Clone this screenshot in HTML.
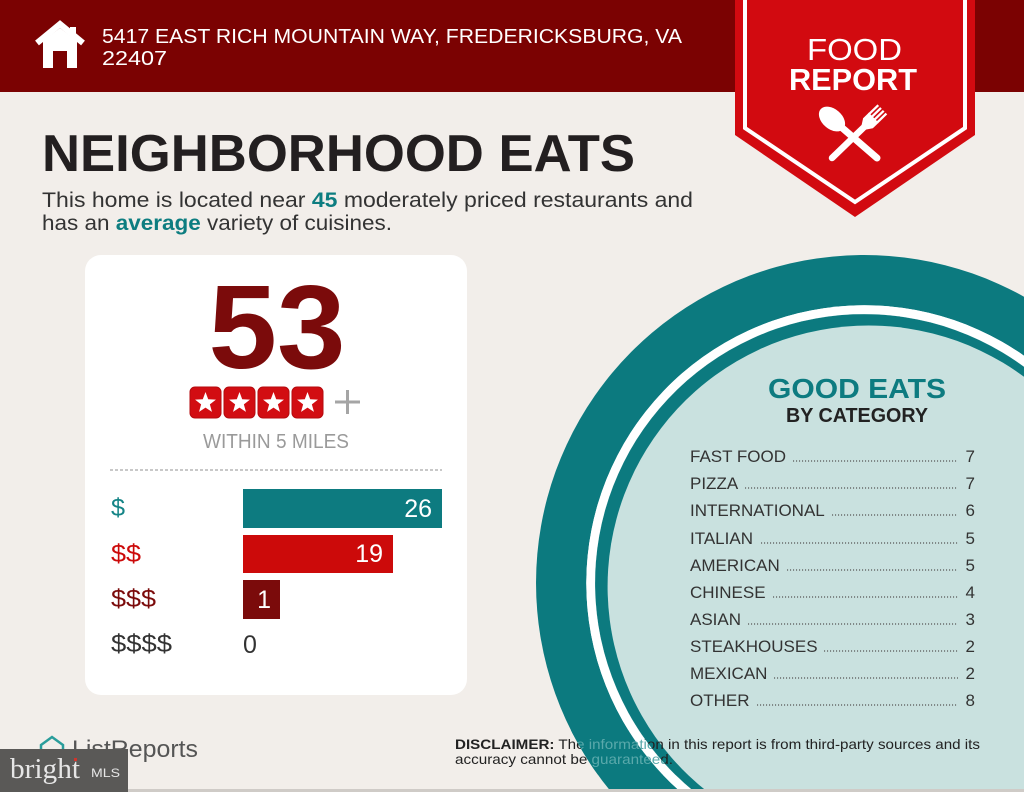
<!DOCTYPE html>
<html>
<head>
<meta charset="utf-8">
<style>
html,body{margin:0;padding:0;background:#f2eeea;width:1024px;height:792px;overflow:hidden;}
svg{display:block;}
text{font-family:"Liberation Sans",sans-serif;}
</style>
</head>
<body>
<svg width="1024" height="792" viewBox="0 0 1024 792" xmlns="http://www.w3.org/2000/svg">
  <defs>
    <clipPath id="band">
      <path clip-rule="evenodd" d="M1024,296.7 A328,328 0 0 0 611.2,792 L1024,792 Z M1024,366.8 A269,269 0 0 0 694.6,792 L1024,792 Z"/>
    </clipPath>
  </defs>
  <!-- background -->
  <rect x="0" y="0" width="1024" height="792" fill="#f2eeea"/>
  <!-- header -->
  <rect x="0" y="0" width="1024" height="92" fill="#7b0202"/>
  <!-- house icon -->
  <polyline points="37,43 60,24 83,43" fill="none" stroke="#ffffff" stroke-width="6" stroke-linejoin="miter"/>
  <rect x="70" y="27" width="6" height="11" fill="#ffffff"/>
  <path d="M43,41 L60,28 L77,41 L77,68 L67,68 L67,51 L53,51 L53,68 L43,68 Z" fill="#ffffff"/>
  <text x="102" y="43" font-size="20" fill="#ffffff" textLength="580" lengthAdjust="spacingAndGlyphs">5417 EAST RICH MOUNTAIN WAY, FREDERICKSBURG, VA</text>
  <text x="102" y="65" font-size="20" fill="#ffffff" textLength="65" lengthAdjust="spacingAndGlyphs">22407</text>

  <!-- badge -->
  <polygon points="735,0 975,0 975,135 855,217 735,135" fill="#d20a10"/>
  <polyline points="745,0 745,128 855,202 965,128 965,0" fill="none" stroke="#ffffff" stroke-width="4"/>
  <text x="807" y="60" font-size="31" fill="#ffffff" textLength="95" lengthAdjust="spacingAndGlyphs">FOOD</text>
  <text x="789" y="90" font-size="31" font-weight="bold" fill="#ffffff" textLength="128" lengthAdjust="spacingAndGlyphs">REPORT</text>
  <!-- fork -->
  <g transform="translate(832,158) rotate(-44)" fill="#ffffff">
    <line x1="0" y1="0" x2="46" y2="0" stroke="#ffffff" stroke-width="6.5" stroke-linecap="round"/>
    <path d="M44,-3 L50,-7 L58,-7 L58,7 L50,7 L44,3 Z"/>
    <rect x="57" y="-7" width="13" height="2.3"/>
    <rect x="57" y="-3.1" width="13" height="2.3"/>
    <rect x="57" y="0.8" width="13" height="2.3"/>
    <rect x="57" y="4.7" width="13" height="2.3"/>
  </g>
  <!-- spoon -->
  <line x1="877" y1="158" x2="840" y2="126" stroke="#ffffff" stroke-width="7" stroke-linecap="round"/>
  <ellipse cx="832" cy="119" rx="15" ry="10" transform="rotate(41 832 119)" fill="#ffffff"/>

  <!-- title -->
  <text x="42" y="171" font-size="52" font-weight="bold" fill="#231f20" textLength="593" lengthAdjust="spacingAndGlyphs">NEIGHBORHOOD EATS</text>
  <text x="42" y="207" font-size="21" fill="#333333" textLength="651" lengthAdjust="spacingAndGlyphs">This home is located near <tspan font-weight="bold" fill="#0d7d80">45</tspan> moderately priced restaurants and</text>
  <text x="42" y="230" font-size="21" fill="#333333" textLength="350" lengthAdjust="spacingAndGlyphs">has an <tspan font-weight="bold" fill="#0d7d80">average</tspan> variety of cuisines.</text>

  <!-- card -->
  <rect x="85" y="255" width="382" height="440" rx="16" ry="16" fill="#ffffff"/>
  <text x="277" y="368" font-size="119" font-weight="bold" fill="#7b0b0b" text-anchor="middle" textLength="137" lengthAdjust="spacingAndGlyphs">53</text>
  <!-- stars -->
  <g>
    <rect x="190" y="387" width="31" height="31" rx="5" fill="#d20d12" stroke="#b50a0e" stroke-width="1"/>
    <rect x="224" y="387" width="31" height="31" rx="5" fill="#d20d12" stroke="#b50a0e" stroke-width="1"/>
    <rect x="258" y="387" width="31" height="31" rx="5" fill="#d20d12" stroke="#b50a0e" stroke-width="1"/>
    <rect x="292" y="387" width="31" height="31" rx="5" fill="#d20d12" stroke="#b50a0e" stroke-width="1"/>
    <polygon transform="translate(205.5,403)" fill="#ffffff" points="0,-11 2.7,-3.72 10.46,-3.4 4.37,1.42 6.47,8.9 0,4.6 -6.47,8.9 -4.37,1.42 -10.46,-3.4 -2.7,-3.72"/>
    <polygon transform="translate(239.5,403)" fill="#ffffff" points="0,-11 2.7,-3.72 10.46,-3.4 4.37,1.42 6.47,8.9 0,4.6 -6.47,8.9 -4.37,1.42 -10.46,-3.4 -2.7,-3.72"/>
    <polygon transform="translate(273.5,403)" fill="#ffffff" points="0,-11 2.7,-3.72 10.46,-3.4 4.37,1.42 6.47,8.9 0,4.6 -6.47,8.9 -4.37,1.42 -10.46,-3.4 -2.7,-3.72"/>
    <polygon transform="translate(307.5,403)" fill="#ffffff" points="0,-11 2.7,-3.72 10.46,-3.4 4.37,1.42 6.47,8.9 0,4.6 -6.47,8.9 -4.37,1.42 -10.46,-3.4 -2.7,-3.72"/>
    <line x1="335" y1="402" x2="360" y2="402" stroke="#a5a5a5" stroke-width="3"/>
    <line x1="347.5" y1="390" x2="347.5" y2="414" stroke="#a5a5a5" stroke-width="3"/>
  </g>
  <text x="203" y="448" font-size="20" fill="#9a9a9a" textLength="146" lengthAdjust="spacingAndGlyphs">WITHIN 5 MILES</text>
  <line x1="110" y1="470" x2="442" y2="470" stroke="#a8a8a8" stroke-width="1.2" stroke-dasharray="3 2"/>

  <!-- bars -->
  <text x="111" y="516" font-size="25" fill="#148486" textLength="14" lengthAdjust="spacingAndGlyphs">$</text>
  <text x="111" y="562" font-size="25" fill="#cc0a0a" textLength="30" lengthAdjust="spacingAndGlyphs">$$</text>
  <text x="111" y="607" font-size="25" fill="#7b0b0b" textLength="45" lengthAdjust="spacingAndGlyphs">$$$</text>
  <text x="111" y="652" font-size="25" fill="#333333" textLength="61" lengthAdjust="spacingAndGlyphs">$$$$</text>

  <rect x="243" y="489" width="199" height="39" fill="#0d7b80"/>
  <rect x="243" y="535" width="150" height="38" fill="#cc0a0a"/>
  <rect x="243" y="580" width="37" height="39" fill="#7b0b0b"/>
  <text x="432" y="517" font-size="25" fill="#ffffff" text-anchor="end">26</text>
  <text x="383" y="562" font-size="25" fill="#ffffff" text-anchor="end">19</text>
  <text x="271" y="608" font-size="25" fill="#ffffff" text-anchor="end">1</text>
  <text x="243" y="653" font-size="25" fill="#333333">0</text>

  <!-- circle (bounded paths) -->
  <path d="M1024,296.7 A328,328 0 0 0 611.2,792 L1024,792 Z" fill="#0c7a7f"/>
  <path d="M1024,355.7 A278,278 0 0 0 680.7,792 L1024,792 Z" fill="#ffffff"/>
  <path d="M1024,366.8 A269,269 0 0 0 694.6,792 L1024,792 Z" fill="#0c7a7f"/>
  <path d="M1024,376.8 A261,261 0 0 0 707.7,792 L1024,792 Z" fill="#c9e1df"/>

  <text x="768" y="398" font-size="28" font-weight="bold" fill="#0d7b80" textLength="178" lengthAdjust="spacingAndGlyphs">GOOD EATS</text>
  <text x="786" y="422" font-size="20" font-weight="bold" fill="#222222" textLength="142" lengthAdjust="spacingAndGlyphs">BY CATEGORY</text>

  <g font-size="17" fill="#333333">
    <text x="690" y="462">FAST FOOD</text>
    <text x="690" y="489">PIZZA</text>
    <text x="690" y="516">INTERNATIONAL</text>
    <text x="690" y="544">ITALIAN</text>
    <text x="690" y="571">AMERICAN</text>
    <text x="690" y="598">CHINESE</text>
    <text x="690" y="625">ASIAN</text>
    <text x="690" y="652">STEAKHOUSES</text>
    <text x="690" y="679">MEXICAN</text>
    <text x="690" y="706">OTHER</text>
    <text x="975" y="462" text-anchor="end">7</text>
    <text x="975" y="489" text-anchor="end">7</text>
    <text x="975" y="516" text-anchor="end">6</text>
    <text x="975" y="544" text-anchor="end">5</text>
    <text x="975" y="571" text-anchor="end">5</text>
    <text x="975" y="598" text-anchor="end">4</text>
    <text x="975" y="625" text-anchor="end">3</text>
    <text x="975" y="652" text-anchor="end">2</text>
    <text x="975" y="679" text-anchor="end">2</text>
    <text x="975" y="706" text-anchor="end">8</text>
  </g>
  <g stroke="#555555" stroke-width="1.3" stroke-dasharray="1.1 1.9">
    <line x1="793" y1="461" x2="958" y2="461"/>
    <line x1="745" y1="488" x2="958" y2="488"/>
    <line x1="832" y1="515" x2="958" y2="515"/>
    <line x1="761" y1="543" x2="958" y2="543"/>
    <line x1="787" y1="570" x2="958" y2="570"/>
    <line x1="773" y1="597" x2="958" y2="597"/>
    <line x1="748" y1="624" x2="958" y2="624"/>
    <line x1="824" y1="651" x2="958" y2="651"/>
    <line x1="774" y1="678" x2="958" y2="678"/>
    <line x1="757" y1="705" x2="958" y2="705"/>
  </g>

  <!-- disclaimer -->
  <g>
    <text x="455" y="749" font-size="14" fill="#222222" textLength="525" lengthAdjust="spacingAndGlyphs"><tspan font-weight="bold">DISCLAIMER:</tspan> The information in this report is from third-party sources and its</text>
    <text x="455" y="764" font-size="14" fill="#222222" textLength="218" lengthAdjust="spacingAndGlyphs">accuracy cannot be guaranteed.</text>
  </g>
  <g clip-path="url(#band)">
    <rect x="536" y="730" width="200" height="45" fill="#0c7a7f"/>
    <path d="M1024,355.7 A278,278 0 0 0 680.7,792 L1024,792 Z" fill="#ffffff"/>
    <path d="M1024,366.8 A269,269 0 0 0 694.6,792 L1024,792 Z" fill="#0c7a7f"/>
    <text x="455" y="749" font-size="14" fill="#5aa9ab" textLength="525" lengthAdjust="spacingAndGlyphs"><tspan font-weight="bold">DISCLAIMER:</tspan> The information in this report is from third-party sources and its</text>
    <text x="455" y="764" font-size="14" fill="#5aa9ab" textLength="218" lengthAdjust="spacingAndGlyphs">accuracy cannot be guaranteed.</text>
  </g>

  <!-- ListReports -->
  <path d="M41,753 L41,745 L52,737 L63,745 L63,753" fill="none" stroke="#2a9d9b" stroke-width="2.5"/>
  <text x="72" y="757" font-size="24" fill="#555555" textLength="126" lengthAdjust="spacingAndGlyphs">ListReports</text>

  <!-- bottom strip -->
  <rect x="0" y="789" width="1024" height="3" fill="#cfcbc7"/>

  <!-- bright MLS -->
  <rect x="0" y="749" width="128" height="43" fill="#5a5957"/>
  <text x="10" y="778" font-size="29" fill="#e6e6e6" textLength="70" lengthAdjust="spacingAndGlyphs" style="font-family:'Liberation Serif',serif">bright</text>
  <rect x="74" y="758" width="3" height="3" fill="#d0342c"/>
  <text x="91" y="777" font-size="12" fill="#e6e6e6" textLength="29" lengthAdjust="spacingAndGlyphs">MLS</text>
</svg>
</body>
</html>
